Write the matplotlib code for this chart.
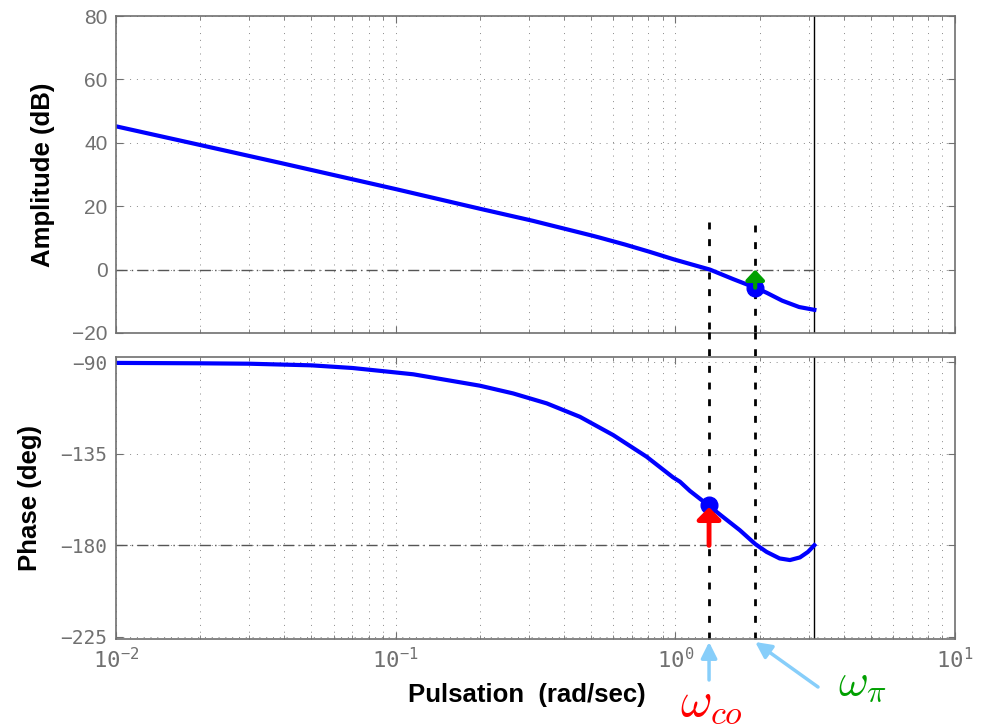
import numpy as np
import matplotlib
matplotlib.use('Agg')
import matplotlib.pyplot as plt

plt.rcParams['font.family'] = ['Liberation Sans', 'DejaVu Sans']

# Bode data (rad/s, dB, deg)
w_mag = [0.01, 0.02, 0.0394, 0.1, 0.2, 0.309, 0.5, 0.536, 0.661, 0.81, 0.99,
         1.33, 1.61, 1.93, 2.12, 2.41, 2.77, 3.1416]
mag_db = [45.2, 39.3, 33.5, 25.4, 19.2, 15.4, 10.8, 10.1, 7.9, 5.6, 3.2,
          0.0, -3.0, -5.7, -7.3, -9.8, -11.8, -12.7]

w_ph = [0.01, 0.02, 0.03, 0.05, 0.07, 0.0879, 0.1156, 0.152, 0.2, 0.263, 0.347,
        0.456, 0.600, 0.789, 0.98, 1.039, 1.127, 1.31, 1.48, 1.70, 1.93,
        2.12, 2.36, 2.57, 2.79, 2.98, 3.1416]
phase_deg = [-90.3, -90.5, -90.7, -91.5, -92.8, -94.2, -95.9, -98.7, -101.5,
             -105.3, -110.2, -116.8, -125.8, -136.4, -146.5, -148.7, -153.2,
             -160.2, -166.0, -172.5, -179.3, -183.2, -186.4, -187.2, -185.9,
             -183.2, -179.9]

w_co = 1.32        # gain crossover
w_pi = 1.93        # phase crossover
w_nyq = 3.1416     # end of the plot
mag_at_wpi = -5.7
ph_at_wco = -160.2

mag_ticks = [-20, 0, 20, 40, 60, 80]
ph_ticks = [-225, -180, -135, -90]
w_ticks = [1e-2, 1e-1, 1e0, 1e1]

gray = '#707070'
green = '#00a000'
sky = '#87cefa'

fig = plt.figure(figsize=(9.82, 7.28), dpi=100)
ax1 = fig.add_axes([116/982, 1-333/728, 839/982, 317/728])
ax2 = fig.add_axes([116/982, 1-639/728, 839/982, 282/728])

for ax in (ax1, ax2):
    ax.set_xscale('log')
    ax.set_xlim(1e-2, 1e1)
    ax.set_xticks(w_ticks)
    ax.grid(True, which='major', ls=(0, (1, 6)), color='#888888', lw=0.7)
    ax.xaxis.grid(True, which='minor', ls=(0, (1, 6)), color='#888888', lw=0.7)
    ax.tick_params(which='both', direction='in', top=True, right=True, color=gray,
                   labelcolor=gray, pad=6)
    ax.tick_params(which='major', length=5)
    ax.tick_params(which='minor', length=3)
    for s in ax.spines.values():
        s.set_color(gray)
        s.set_linewidth(1.2)
    ax.axvline(w_nyq, color='black', lw=1.0)

# amplitude
ax1.set_ylim(-20, 80)
ax1.set_yticks(mag_ticks)
ax1.tick_params(axis='x', labelbottom=False)
ax1.tick_params(axis='y', labelsize=15)
ax1.plot([1e-2, w_nyq], [0, 0], color='#555555', lw=1.0, ls=(0, (8, 3, 1, 3)))
ax1.plot(w_mag, mag_db, color='blue', lw=3)
ax1.plot([w_co, w_co], [15, -20], color='black', lw=2, ls=(0, (2.5, 3.5)))
ax1.plot([w_pi, w_pi], [14, -20], color='black', lw=2, ls=(0, (2.5, 3.5)))
ax1.plot(w_pi, mag_at_wpi, 'o', color='blue', ms=12)
ax1.annotate('', xy=(w_pi, 0), xytext=(w_pi, mag_at_wpi),
             arrowprops=dict(arrowstyle='-|>,head_length=0.3,head_width=0.28',
                             color=green, lw=3, mutation_scale=20,
                             shrinkA=0, shrinkB=0))
ax1.set_ylabel('Amplitude (dB)', fontsize=18.5, fontweight='bold')
ax1.yaxis.set_label_coords(-0.0727, 0.5)

# phase
ax2.set_ylim(-226, -87.4)
ax2.set_yticks(ph_ticks)
for lab in ax2.get_yticklabels():
    lab.set_family('DejaVu Sans Mono')
    lab.set_fontsize(14)
for lab in ax2.get_xticklabels():
    lab.set_family('DejaVu Sans Mono')
    lab.set_fontsize(16)
ax2.plot([1e-2, w_nyq], [-180, -180], color='#555555', lw=1.0, ls=(0, (8, 3, 1, 3)))
ax2.plot(w_ph, phase_deg, color='blue', lw=3)
ax2.plot([w_co, w_co], [-226, -75], color='black', lw=2, ls=(0, (2.5, 3.5)),
         clip_on=False)
ax2.plot([w_pi, w_pi], [-226, -75], color='black', lw=2, ls=(0, (2.5, 3.5)),
         clip_on=False)
ax2.plot(w_co, ph_at_wco, 'o', color='blue', ms=12)
ax2.annotate('', xy=(w_co, ph_at_wco - 1), xytext=(w_co, -180),
             arrowprops=dict(arrowstyle='-|>,head_length=0.3,head_width=0.3',
                             color='red', lw=3.5, mutation_scale=24,
                             shrinkA=0, shrinkB=0))
ax2.set_ylabel('Phase (deg)', fontsize=18.5, fontweight='bold')
ax2.yaxis.set_label_coords(-0.0886, 0.5)
ax2.set_xlabel('Pulsation  (rad/sec)', fontsize=18.5, fontweight='bold')
ax2.xaxis.set_label_coords((527-116)/839, -0.156)

# crossover pointers below the axis
ax2.annotate('', xy=(w_co, 86), xycoords=('data', 'figure pixels'),
             xytext=(w_co, 48), textcoords=('data', 'figure pixels'),
             arrowprops=dict(arrowstyle='-|>', color=sky, lw=2.5,
                             mutation_scale=24, shrinkA=0, shrinkB=0),
             annotation_clip=False)
ax2.annotate('', xy=(w_pi, 86), xycoords=('data', 'figure pixels'),
             xytext=(818, 41), textcoords='figure pixels',
             arrowprops=dict(arrowstyle='-|>', color=sky, lw=2.5,
                             mutation_scale=24, shrinkA=0, shrinkB=0),
             annotation_clip=False)
fig.text(680/982, 1-716/728, r'$\omega_{co}$', color='red', fontsize=35,
         math_fontfamily='cm', ha='left', va='baseline')
fig.text(838/982, 1-695/728, r'$\omega_{\pi}$', color=green, fontsize=33,
         math_fontfamily='cm', ha='left', va='baseline')

fig.savefig('out.png', dpi=100)
